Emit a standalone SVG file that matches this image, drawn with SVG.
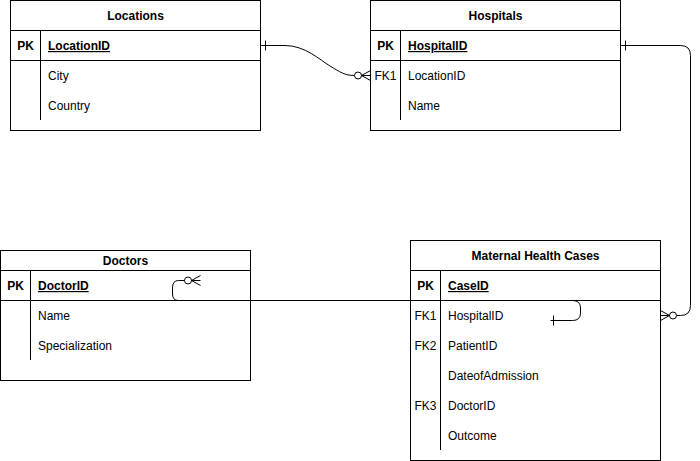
<svg xmlns="http://www.w3.org/2000/svg" width="700" height="461" viewBox="0 0 700 461">
<style>
.box{fill:#fff;stroke:#000;stroke-width:1}
.ln{fill:none;stroke:#000;stroke-width:1}
text{font-family:"Liberation Sans",Arial,sans-serif;font-size:12px;fill:#000}
.t{font-weight:bold;text-anchor:middle}
.k{font-weight:bold;text-anchor:middle}
.c{text-anchor:middle}
.u{font-weight:bold;text-decoration:underline}
</style>
<rect width="700" height="461" fill="#fff"/>
<g id="locations">
<rect class="box" x="10.5" y="0.5" width="250" height="130"/>
<path class="ln" d="M10.5 30.5H260.5M10.5 60.5H260.5M40.5 30.5V120"/>
<text class="t" x="135.5" y="20">Locations</text>
<text class="k" x="25.5" y="50">PK</text>
<text class="u" x="48" y="50">LocationID</text>
<text x="48" y="80">City</text>
<text x="48" y="110">Country</text>
</g>
<g id="hospitals">
<rect class="box" x="370.5" y="0.5" width="250" height="130"/>
<path class="ln" d="M370.5 30.5H620.5M370.5 60.5H620.5M400.5 30.5V120"/>
<text class="t" x="495.5" y="20">Hospitals</text>
<text class="k" x="385.5" y="50">PK</text>
<text class="u" x="408" y="50">HospitalID</text>
<text class="c" x="385.5" y="80">FK1</text>
<text x="408" y="80">LocationID</text>
<text x="408" y="110">Name</text>
</g>
<g id="doctors">
<rect class="box" x="0.5" y="250.5" width="250" height="130"/>
<path class="ln" d="M0.5 270.5H250.5M0.5 300.5H250.5M30.5 270.5V360"/>
<text class="t" x="125.5" y="265">Doctors</text>
<text class="k" x="15.5" y="290">PK</text>
<text class="u" x="38" y="290">DoctorID</text>
<text x="38" y="320">Name</text>
<text x="38" y="350">Specialization</text>
</g>
<g id="maternal">
<rect class="box" x="410.5" y="240.5" width="250" height="220"/>
<path class="ln" d="M410.5 270.5H660.5M410.5 300.5H660.5M440.5 270.5V450"/>
<text class="t" x="535.5" y="260">Maternal Health Cases</text>
<text class="k" x="425.5" y="290">PK</text>
<text class="u" x="448" y="290">CaseID</text>
<text class="c" x="425.5" y="320">FK1</text>
<text x="448" y="320">HospitalID</text>
<text class="c" x="425.5" y="350">FK2</text>
<text x="448" y="350">PatientID</text>
<text x="448" y="380">DateofAdmission</text>
<text class="c" x="425.5" y="410">FK3</text>
<text x="448" y="410">DoctorID</text>
<text x="448" y="440">Outcome</text>
</g>
<g id="connectors">
<path class="ln" d="M260.5 45.5H285C305 45.5 320 60 330 66C340 72 345 75.5 354 75.5"/>
<path class="ln" d="M265.5 40.5V50.5"/>
<circle class="ln" cx="358" cy="75.5" r="3.5"/>
<path class="ln" d="M361.5 75.5H370.5M370.5 70.5L361.5 75.5L370.5 80.5"/>
<path class="ln" d="M620.5 45.5H680.5Q690.5 45.5 690.5 55.5V305.5Q690.5 315.5 680.5 315.5H676.5"/>
<path class="ln" d="M625.5 40.5V50.5"/>
<circle class="ln" cx="673" cy="315.5" r="3.5"/>
<path class="ln" d="M669.5 315.5H660.5M660.5 310.5L669.5 315.5L660.5 320.5"/>
<path class="ln" d="M184.5 280.5H178.5Q172.5 280.5 172.5 288V294Q172.5 300.5 178.5 300.5H572.5Q580.5 300.5 580.5 308V313Q580.5 320.5 572.5 320.5H550.5"/>
<path class="ln" d="M553.5 315.5V325.5"/>
<circle class="ln" cx="188" cy="280.5" r="3.5"/>
<path class="ln" d="M191.5 280.5H200.5M200.5 275.5L191.5 280.5L200.5 285.5"/>
</g>
</svg>
